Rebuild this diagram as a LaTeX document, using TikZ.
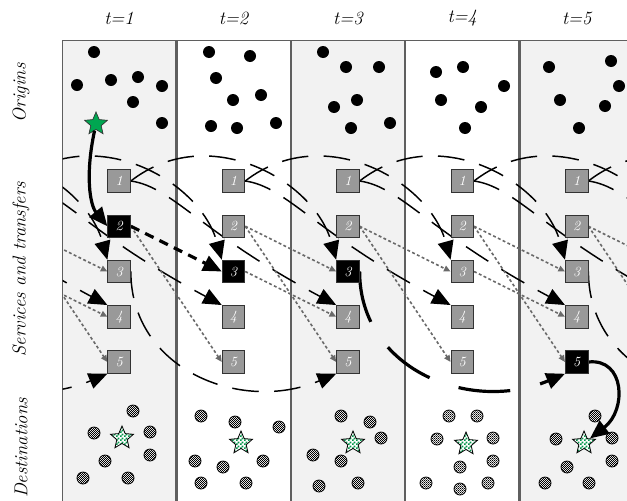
\documentclass[tikz,border=0pt]{standalone}
\usepackage{amsmath,amssymb}
\usepackage{xcolor}
\usepackage{tikz}
\usetikzlibrary{positioning, calc, arrows.meta, shapes.geometric, patterns}

\definecolor{colfill}{RGB}{242,242,242}
\definecolor{colline}{RGB}{95,95,95}
\definecolor{svcgray}{RGB}{153,153,153}
\definecolor{walkgray}{RGB}{105,105,105}
\definecolor{stargreen}{RGB}{0,166,81}

\pgfdeclarepatternformonly{finechecks}{\pgfpointorigin}{\pgfpoint{1.4pt}{1.4pt}}{\pgfpoint{1.4pt}{1.4pt}}{%
  \pgfpathrectangle{\pgfpointorigin}{\pgfpoint{0.7pt}{0.7pt}}%
  \pgfpathrectangle{\pgfpoint{0.7pt}{0.7pt}}{\pgfpoint{0.7pt}{0.7pt}}%
  \pgfusepath{fill}}
\pgfdeclarepatternformonly{coarsechecks}{\pgfpointorigin}{\pgfpoint{3pt}{3pt}}{\pgfpoint{3pt}{3pt}}{%
  \pgfpathrectangle{\pgfpointorigin}{\pgfpoint{1.5pt}{1.5pt}}%
  \pgfpathrectangle{\pgfpoint{1.5pt}{1.5pt}}{\pgfpoint{1.5pt}{1.5pt}}%
  \pgfusepath{fill}}

\pgfdeclarelayer{bg}
\pgfdeclarelayer{fg}
\pgfsetlayers{bg,main,fg}

\tikzset{
  colbox/.style={draw=colline, line width=0.9pt},
  svc/.style={draw=black!80, fill=svcgray, line width=0.6pt, minimum size=17pt, inner sep=0pt,
    text=white, font=\fontsize{10.5}{12}\selectfont\itshape},
  ghost/.style={svc, draw=none, fill=none},
  bus/.style={line width=1.1pt, dash pattern=on 20pt off 11.5pt},
  tip/.style={-{Triangle[length=14pt,width=12pt]}},
  walk/.style={walkgray, line width=1.2pt, dash pattern=on 2.2pt off 1.8pt, -{Triangle[length=5pt,width=4.5pt]}},
  route/.style={line width=2.4pt},
  dest/.style={draw=black, line width=0.6pt, preaction={fill=white}, pattern=finechecks, pattern color=black},
  ostar/.style={star, star points=5, star point ratio=2.2, minimum size=18pt, inner sep=0pt,
    draw=black!80, line width=0.5pt, fill=stargreen},
  dstar/.style={star, star points=5, star point ratio=2.2, minimum size=18pt, inner sep=0pt,
    draw=black, line width=0.6pt, preaction={fill=white}, pattern=coarsechecks, pattern color=stargreen!90!black},
  lab/.style={font=\fontsize{14}{16}\selectfont\itshape, inner sep=0pt}
}

\begin{document}
\begin{tikzpicture}[x=0.75pt,y=0.75pt,yscale=-1,xscale=1]
\useasboundingbox (0,0) rectangle (627,500);

%Shape: Time columns
\begin{pgfonlayer}{bg}
\foreach \t in {1,3,5} \draw[colbox, fill=colfill] ({62.5+114.4*(\t-1)},40.5) rectangle +(113.2,470);
\foreach \t in {2,4} \draw[colbox, fill=white] ({62.5+114.4*(\t-1)},40.5) rectangle +(113.2,470);
\end{pgfonlayer}

%Shape: Services (ghost columns -1,0,6,7 only carry the runs in and out)
\begin{pgfonlayer}{fg}
\begin{scope}
\clip (62.5,40) rectangle (627,500);
\foreach \t in {1,...,5}
  \foreach \k in {1,...,5}
    \node[svc] (s\t-\k) at ({119.1+114.4*(\t-1)},{181+45.25*(\k-1)}) {\k};
\foreach \t in {-1,0,6,7}
  \foreach \k in {1,...,5}
    \node[ghost] (s\t-\k) at ({119.1+114.4*(\t-1)},{181+45.25*(\k-1)}) {};
\node[svc, fill=black] (s1-2) at (s1-2) {2};
\node[svc, fill=black] (s2-3) at (s2-3) {3};
\node[svc, fill=black] (s3-3) at (s3-3) {3};
\node[svc, fill=black] (s5-5) at (s5-5) {5};
\end{scope}
\end{pgfonlayer}

%Shape: Origins
\fill (94,52) circle (6) (77,85) circle (6) (111,80) circle (6) (138,77) circle (6) (162,86) circle (6) (133,102) circle (6) (162,123) circle (6);
\fill (209,52) circle (6) (250,56) circle (6) (216,78) circle (6) (261,95) circle (6) (233,100) circle (6) (211,126) circle (6) (237,128) circle (6) (276,123) circle (6);
\fill (323,52) circle (6) (346,67) circle (6) (379,67) circle (6) (357,100) circle (6) (334,107) circle (6) (351,128) circle (6) (390,123) circle (6);
\fill (436,72) circle (6) (463,67) circle (6) (504,86) circle (6) (441,100) circle (6) (481,107) circle (6) (465,128) circle (6);
\fill (549,67) circle (6) (611,61) circle (6) (619,86) circle (6) (560,100) circle (6) (605,106) circle (6) (579,128) circle (6);
\node[ostar] (o1) at (96,124) {};

%Shape: Destinations
\draw[dest] (133,411) circle (6) (94,433) circle (6) (150,432) circle (6) (150,455) circle (6) (105,461) circle (6) (83,478) circle (6) (128,478) circle (6);
\draw[dest] (201,416) circle (6) (235,422) circle (6) (279,427) circle (6) (195,461) circle (6) (223,467) circle (6) (263,461) circle (6) (201,483) circle (6) (246,483) circle (6);
\draw[dest] (341,416) circle (6) (370,422) circle (6) (381,438) circle (6) (313,455) circle (6) (341,461) circle (6) (319,486) circle (6) (358,483) circle (6);
\draw[dest] (449,416) circle (6) (477,416) circle (6) (437,439) circle (6) (493,438) circle (6) (493,461) circle (6) (460,467) circle (6) (426,483) circle (6) (488,483) circle (6) (460,489) circle (6);
\draw[dest] (595,416) circle (6) (556,439) circle (6) (612,438) circle (6) (612,461) circle (6) (567,467) circle (6) (545,483) circle (6) (589,483) circle (6);
\node[dstar] (d1) at (122,438) {};
\node[dstar] (d2) at (241,443) {};
\node[dstar] (d3) at (353,443) {};
\node[dstar] (d4) at (466,444) {};
\node[dstar] (d5) at (584,443) {};

%Straight Lines: bus runs and transfers
\begin{scope}
\clip (62.5,40) rectangle (627,500);
\foreach \t [evaluate=\t as \u using int(\t+2)] in {-1,...,5} {
  \draw[bus, tip] (s\t-1.east) .. controls +(77,-60) and +(-22,-80) .. (s\u-3.north west);
  \draw[bus, tip] (s\t-1.east) .. controls +(42,6) and +(-137,-73) .. (s\u-4.north west);
}
\foreach \t [evaluate=\t as \u using int(\t+2)] in {-1,1,5}
  \draw[bus, tip] (s\t-3.east) .. controls +(0,98) and +(-95,40) .. (s\u-5.south west);
\foreach \t [evaluate=\t as \u using int(\t+1)] in {0,...,5}
  \draw[walk] (s\t-2.east) -- (s\u-5.west);
\foreach \t [evaluate=\t as \u using int(\t+1)] in {0,2,3,4,5}
  \draw[walk] (s\t-2.east) -- (s\u-3.west);
\foreach \t [evaluate=\t as \u using int(\t+1)] in {0,2,4}
  \draw[walk] (s\t-3.east) -- (s\u-4.west);
\end{scope}

%Straight Lines: travelled path
\draw[route, tip] (o1) .. controls (85,175) and (90,205) .. (s1-2.west);
\draw[route, dash pattern=on 7pt off 5pt, tip] (s1-2.east) -- (s2-3.west);
\draw[route, dash pattern=on 39pt off 23pt, tip] (s3-3.east) .. controls +(0,98) and +(-95,40) .. (s5-5.south west);
\draw[route, tip] (s5-5.east) .. controls (625,358) and (627,410) .. (d5);

% Text Node
\node[lab] (h1) at (119.1,18) {t=1};
\node[lab] (h2) at (233.5,18) {t=2};
\node[lab] (h3) at (347.9,18) {t=3};
\node[lab] (h4) at (462.3,18) {t=4};
\node[lab] (h5) at (576.7,18) {t=5};
% Text Node
\node[lab, rotate=90] (lo) at (21,93) {Origins};
\node[lab, rotate=90] (ls) at (21,269) {Services and transfers};
\node[lab, rotate=90] (ld) at (21,448) {Destinations};

\end{tikzpicture}
\end{document}
